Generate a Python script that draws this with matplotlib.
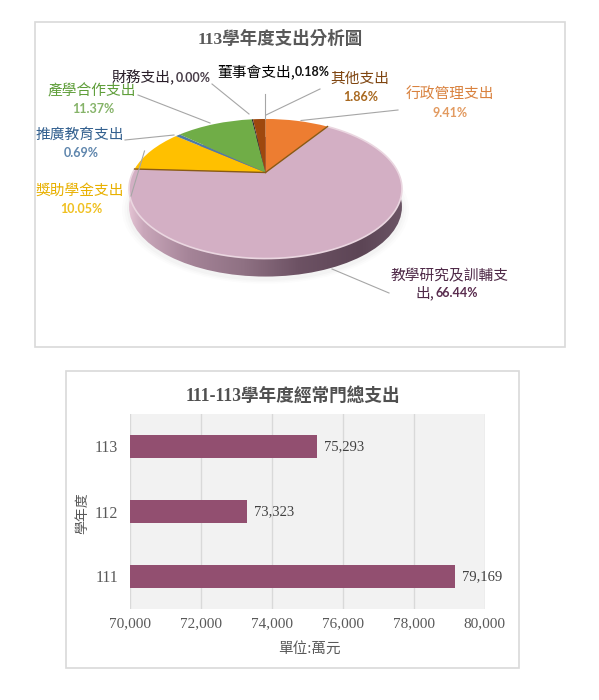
import numpy as np
import matplotlib
matplotlib.use("Agg")
import matplotlib.pyplot as plt
from matplotlib.patches import Rectangle, Ellipse
from matplotlib.transforms import Transform
from matplotlib.colors import LinearSegmentedColormap

# ---------- data ----------
pie_names = ["行政管理支出", "教學研究及訓輔支出", "獎助學金支出", "推廣教育支出",
             "產學合作支出", "財務支出", "董事會支出", "其他支出"]
pie_shares = [9.41, 66.44, 10.05, 0.69, 11.37, 0.00, 0.18, 1.86]
pie_colors = ["#ed7d31", "#d3afc4", "#ffc000", "#4f7aa6", "#70ad47", "#444444", "#222222", "#9e480e"]
years = ["111", "112", "113"]
totals = [79169, 73323, 75293]
xticks = [70000, 72000, 74000, 76000, 78000, 80000]

SERIF = ["Liberation Serif", "Noto Sans CJK TC"]
SANS = ["Lato", "Noto Sans CJK TC"]
CJK = ["Noto Sans CJK TC", "DejaVu Sans"]
FS_NAME, FS_PCT = 10.6, 9.0

fig = plt.figure(figsize=(5.99, 7.0), dpi=100, facecolor="white")
ax = fig.add_axes([0, 0, 1, 1])

# panel frames drawn in pixel coordinates
CX, CY, RX, K, A, DEPTH = 265.5, 172.5, 132.7, 0.233, 66.0, 18.0


class Tilt(Transform):
    """Perspective view of the unit disc, in pixel coordinates."""
    input_dims = output_dims = 2
    is_separable = False

    def transform_non_affine(self, xy):
        xy = np.asarray(xy, dtype=float)
        d = 1 + K * xy[:, 1]
        return np.column_stack([CX + RX * xy[:, 0] / d, CY - A * xy[:, 1] / d])


tilt = Tilt()
wedges, _ = ax.pie(pie_shares, colors=pie_colors, startangle=90, counterclock=False, radius=1.0)
for w in wedges:
    w.set_transform(tilt + ax.transData)
    w.set_zorder(5)
    w.set_linewidth(0)
ax.set_aspect("auto")
ax.set_xlim(0, 599)
ax.set_ylim(700, 0)
ax.axis("off")

for (x0, y0, x1, y1) in [(34.5, 21.5, 564.5, 346.5), (65.5, 370.5, 518.5, 667.5)]:
    ax.add_patch(Rectangle((x0, y0), x1 - x0, y1 - y0, fc="white", ec="#d9d9d9", lw=1.2, zorder=0))

# ellipse of the disc in pixels
pts = tilt.transform(np.column_stack([np.cos(np.linspace(0, 2 * np.pi, 361)),
                                      np.sin(np.linspace(0, 2 * np.pi, 361))]))
ex0, ex1, ey0, ey1 = pts[:, 0].min(), pts[:, 0].max(), pts[:, 1].min(), pts[:, 1].max()
ecx, ecy, ew, eh = (ex0 + ex1) / 2, (ey0 + ey1) / 2, ex1 - ex0, ey1 - ey0

# soft shadow beneath the disc
for grow, alpha in [(14, 0.025), (9, 0.03), (4, 0.04)]:
    ax.add_patch(Ellipse((ecx, ecy + DEPTH + 3), ew + grow, eh + grow * 0.6, fc="#808080",
                         ec="none", alpha=alpha, zorder=1))

# side wall with horizontal gradient
cmap = LinearSegmentedColormap.from_list("side", [
    (0.00, "#e3c3d3"), (0.05, "#c9a7ba"), (0.22, "#a58498"), (0.42, "#8f7183"),
    (0.62, "#6d5264"), (0.85, "#5c4555"), (1.00, "#6b5565")])
img = ax.imshow(np.linspace(0, 1, 256)[None, :], cmap=cmap, aspect="auto",
                extent=(ex0, ex1, ey1 + DEPTH, ey0), zorder=2)
clip = Ellipse((ecx, ecy + DEPTH), ew, eh, transform=ax.transData, fc="none", ec="none")
ax.add_patch(clip)
img.set_clip_path(clip)
ax.set_xlim(0, 599)
ax.set_ylim(700, 0)

# thin pale rim and dark cut lines around the main slice
share_edges = np.cumsum([0] + pie_shares) / 100 * 2 * np.pi
a0, a1 = share_edges[1], share_edges[2]
arc = np.linspace(a0, a1, 200)
rim = tilt.transform(np.column_stack([np.sin(arc), np.cos(arc)]))
ax.plot(rim[:, 0], rim[:, 1], color="#ead6e0", lw=1.2, zorder=6)
for ang in (a0, a1):
    p = tilt.transform(np.array([[0.0, 0.0], [np.sin(ang), np.cos(ang)]]))
    ax.plot(p[:, 0], p[:, 1], color="#8a5a14", lw=1.0, zorder=6)

# leader lines
leaders = [[(212, 84), (249, 114)], [(265, 94), (265, 119)], [(320, 89), (266, 115)],
           [(398, 110), (301, 120.5)], [(138, 95), (210, 123)], [(125, 140), (174, 135)],
           [(131, 196), (144.5, 151)], [(389, 293), (332, 269)]]
for seg in leaders:
    xs, ys = zip(*seg)
    ax.plot(xs, ys, color="#a6a6a6", lw=0.8, zorder=7)


def pct(v):
    return f"{v:.2f}%"


name_of = dict(zip(pie_names, pie_shares))

ax.text(280, 39, "113學年度支出分析圖", family=SERIF, fontsize=12.6, weight="bold",
        color="#595959", ha="center", va="center", zorder=8)

two_line = [("其他支出", 360, 79, 361, 97, "#7f4510", "#a8681f"),
            ("行政管理支出", 450, 95, 450, 113, "#d9823f", "#e29a60"),
            ("產學合作支出", 92, 91, 93, 109, "#5f9e3a", "#85b368"),
            ("推廣教育支出", 80, 135, 81, 153, "#33608f", "#5f86ad"),
            ("獎助學金支出", 80, 191, 81, 209, "#e8b000", "#f0c020")]
for n, x1, y1, x2, y2, c1, c2 in two_line:
    ax.text(x1, y1, n, family=CJK, fontsize=FS_NAME, color=c1, ha="center", va="center", zorder=8)
    ax.text(x2, y2, pct(name_of[n]), family=SANS, fontsize=FS_PCT, weight="bold", color=c2,
            ha="center", va="center", zorder=8)

# inline labels
ax.text(175, 78, "財務支出,", family=CJK, fontsize=FS_NAME, color="#2a1f2a", ha="right", va="center", zorder=8)
ax.text(176, 78, pct(name_of["財務支出"]), family=SANS, fontsize=FS_PCT, weight="bold", color="#4a3f4a",
        ha="left", va="center", zorder=8)
ax.text(295, 72, "董事會支出,", family=CJK, fontsize=FS_NAME, color="black", ha="right", va="center", zorder=8)
ax.text(295, 72, pct(name_of["董事會支出"]), family=SANS, fontsize=FS_PCT, weight="bold", color="#111111",
        ha="left", va="center", zorder=8)

ax.text(449, 276, "教學研究及訓輔支", family=CJK, fontsize=FS_NAME, color="#4f2a48", ha="center", va="center", zorder=8)
ax.text(434, 293, "出,", family=CJK, fontsize=FS_NAME, color="#4f2a48", ha="right", va="center", zorder=8)
ax.text(435, 293, pct(name_of["教學研究及訓輔支出"]), family=SANS, fontsize=FS_PCT, weight="bold",
        color="#5a2d4f", ha="left", va="center", zorder=8)

# ---------- bar chart ----------
L, R, T, B = 129.5, 484.5, 414.0, 609.0
bx = fig.add_axes([L / 599, 1 - B / 700, (R - L) / 599, (B - T) / 700], facecolor="#f2f2f2")
bars = bx.barh(years, totals, height=0.34, color="#924f70", left=0, zorder=3)
bx.set_xlim(xticks[0], xticks[-1])
bx.set_ylim(-0.5, 2.5)
bx.set_xticks(xticks)
bx.set_xticklabels([f"{v:,}" for v in xticks], family=SERIF, fontsize=11, color="#595959")
bx.set_yticks(range(len(years)))
bx.set_yticklabels(years, family=SERIF, fontsize=11.5, color="#595959")
bx.tick_params(length=0)
bx.tick_params(axis="x", pad=6)
bx.tick_params(axis="y", pad=8)
bx.grid(axis="x", color="#d9d9d9", lw=1, zorder=1)
bx.set_axisbelow(True)
for s in bx.spines.values():
    s.set_visible(False)
bx.bar_label(bars, labels=[f"{v:,}" for v in totals], padding=5, family=SERIF, fontsize=10.5, color="#404040")
fig.text(293 / 599, 1 - 396 / 700, "111-113學年度經常門總支出", family=SERIF, fontsize=12.7, weight="bold",
         color="#505050", ha="center", va="center")
fig.text(309 / 599, 1 - 649 / 700, "單位:萬元", family=CJK, fontsize=10.5, color="#595959", ha="center", va="center")
fig.text(82 / 599, 1 - 513 / 700, "學年度", family=CJK, fontsize=10, color="#595959", rotation=90,
         ha="center", va="center")

fig.savefig("out.png", dpi=100)
